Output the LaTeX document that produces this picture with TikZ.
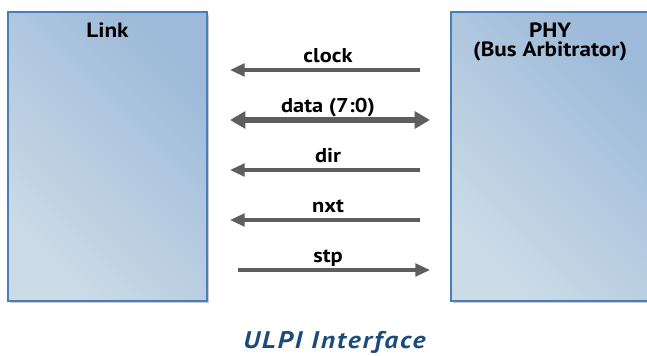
\documentclass[tikz,border=0pt]{standalone}
\usepackage{fontspec}
\setmainfont[FakeStretch=1.12]{PT Sans}
\newfontfamily\capfont[FakeStretch=1.15, LetterSpace=8]{PT Sans}
\usetikzlibrary{arrows.meta, positioning, shadows}

\definecolor{boxedge}{HTML}{4A7EBB}
\definecolor{boxdark}{HTML}{9DBADA}
\definecolor{boxlight}{HTML}{CCDBE6}
\definecolor{wire}{HTML}{5E5E5E}
\definecolor{captionblue}{HTML}{1B4B7C}

\begin{document}
\begin{tikzpicture}[
    x=0.75pt, y=0.75pt,
    unit/.style={draw=boxedge, line width=1.5pt, top color=boxdark, bottom color=boxlight, shading angle=-45, minimum width=149pt, minimum height=216.5pt, inner sep=0pt,
      drop shadow={shadow xshift=1.5pt, shadow yshift=-2pt, opacity=0.2, fill=black}},
    title/.style={font=\bfseries\fontsize{15.5}{14.3}\selectfont, align=center, anchor=north, inner sep=0pt, yshift=-8.5pt},
    sig/.style={draw=wire, line width=2.4pt, -{Triangle[length=11pt, width=9.5pt]}},
    bus/.style={draw=wire, line width=4.2pt, {Triangle[length=11.5pt, width=12.5pt]}-{Triangle[length=11.5pt, width=12.5pt]}},
    siglabel/.style={font=\bfseries\fontsize{15}{16}\selectfont, anchor=base, inner sep=0pt}
]
\useasboundingbox (0,0) rectangle (647,356);

% the two units
\node[unit, label={[title]north:Link}] (link) at (107.5,199.5) {};
\node[unit, right=181.5pt of link, label={[title]north:PHY\\(Bus Arbitrator)}] (phy) {};

% signal labels
\node[siglabel] (clock) at (328,293) {clock};
\node[siglabel] (data) at (328,243) {data (7:0)};
\node[siglabel] (dir) at (328,193) {dir};
\node[siglabel] (nxt) at (328,143) {nxt};
\node[siglabel] (stp) at (328,93) {stp};

% wire ends
\coordinate (clock-l) at (230,286);
\coordinate (clock-r) at (420,286);
\coordinate (data-l) at (230,236);
\coordinate (data-r) at (430,236);
\coordinate (dir-l) at (230,186);
\coordinate (dir-r) at (420,186);
\coordinate (nxt-l) at (230,136);
\coordinate (nxt-r) at (420,136);
\coordinate (stp-l) at (238,86);
\coordinate (stp-r) at (430,86);

\draw[sig] (clock-r) -- (clock-l);
\draw[bus] (data-l) -- (data-r);
\draw[sig] (dir-r) -- (dir-l);
\draw[sig] (nxt-r) -- (nxt-l);
\draw[sig] (stp-l) -- (stp-r);

\node[font=\capfont\bfseries\itshape\fontsize{18}{20}\selectfont, text=captionblue, anchor=base, inner sep=0pt] (caption) at (334.5,7) {ULPI Interface};

\end{tikzpicture}
\end{document}
